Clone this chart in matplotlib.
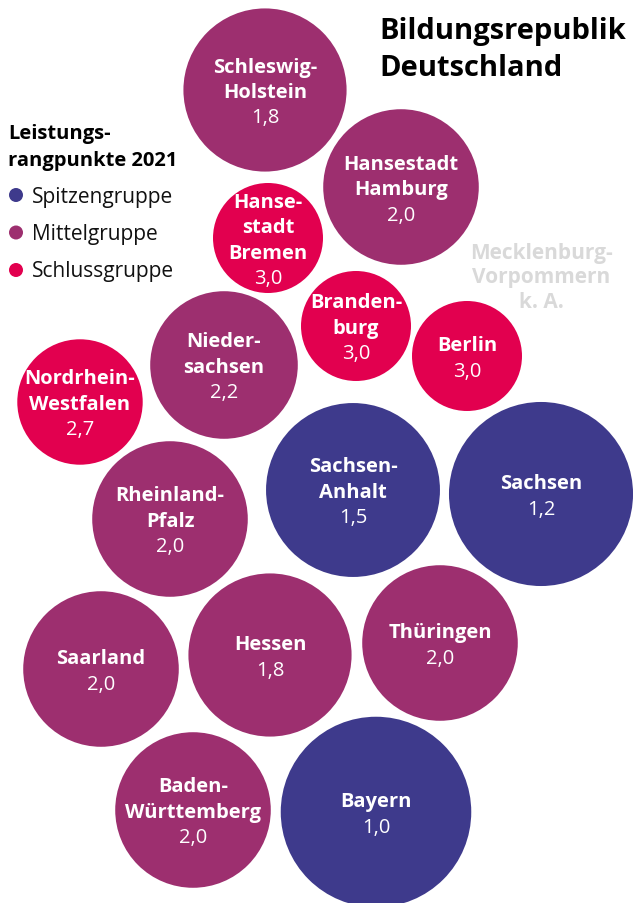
import numpy as np
import matplotlib
matplotlib.use("Agg")
import matplotlib.pyplot as plt
from matplotlib.patches import Circle

# Leistungsrangpunkte 2021 per Bundesland
states = ["Schleswig-\nHolstein", "Hansestadt\nHamburg", "Hanse-\nstadt\nBremen",
          "Branden-\nburg", "Berlin", "Nieder-\nsachsen", "Nordrhein-\nWestfalen",
          "Sachsen-\nAnhalt", "Sachsen", "Rheinland-\nPfalz", "Saarland", "Hessen",
          "Thüringen", "Baden-\nWürttemberg", "Bayern"]
scores = [1.8, 2.0, 3.0, 3.0, 3.0, 2.2, 2.7, 1.5, 1.2, 2.0, 2.0, 1.8, 2.0, 2.0, 1.0]
groups = ["Mittelgruppe", "Mittelgruppe", "Schlussgruppe", "Schlussgruppe", "Schlussgruppe",
          "Mittelgruppe", "Schlussgruppe", "Spitzengruppe", "Spitzengruppe", "Mittelgruppe",
          "Mittelgruppe", "Mittelgruppe", "Mittelgruppe", "Mittelgruppe", "Spitzengruppe"]
group_names = ["Spitzengruppe", "Mittelgruppe", "Schlussgruppe"]

# bubble layout (centre of each state's circle)
layout_x = [265, 401, 268, 356, 467, 224, 80, 353, 541, 170, 101, 270, 440, 193, 376]
layout_y = [91, 188, 239, 327, 357, 366, 403, 491, 495, 520, 670, 656, 644, 811, 813]

colors = {"Spitzengruppe": "#3e3a8c", "Mittelgruppe": "#9d2f6f", "Schlussgruppe": "#e2004f"}
FONT = "Open Sans"
W, H = 633, 904


def radius(score):
    # circle area grows with distance from the worst score (4)
    return 55 * np.sqrt(4 - score)


fig = plt.figure(figsize=(W / 100, H / 100), dpi=100)
ax = fig.add_axes([0, 0, 1, 1])
ax.set_xlim(0, W)
ax.set_ylim(H, 0)
ax.set_aspect("equal")
ax.axis("off")

line_h = 25.5
for name, val, grp, x, y in zip(states, scores, groups, layout_x, layout_y):
    ax.add_patch(Circle((x, y), radius(val), color=colors[grp], lw=0))
    lines = name.split("\n")
    n = len(lines) + 1
    ty = y + 2  # small optical shift of the text block
    for i, txt in enumerate(lines):
        ax.text(x, ty + (i - (n - 1) / 2) * line_h, txt, ha="center", va="center",
                color="white", fontsize=14.5, fontweight="bold", family=FONT)
    ax.text(x, ty + (n - 1 - (n - 1) / 2) * line_h, f"{val:.1f}".replace(".", ","),
            ha="center", va="center", color="white", fontsize=14.5, family=FONT)

# state without data
for i, txt in enumerate(["Mecklenburg-", "Vorpommern", "k. A."]):
    ax.text(541, 253 + i * 25, txt, ha="center", va="center", color="#d9d9d9",
            fontsize=15, fontweight="bold", family=FONT)

# title
ax.text(379, 31, "Bildungsrepublik", ha="left", va="center", fontsize=21,
        fontweight="bold", family=FONT, color="black")
ax.text(379, 68, "Deutschland", ha="left", va="center", fontsize=21,
        fontweight="bold", family=FONT, color="black")

# legend
ax.text(8, 134, "Leistungs-", ha="left", va="center", fontsize=14.5,
        fontweight="bold", family=FONT, color="black")
ax.text(8, 161, "rangpunkte 2021", ha="left", va="center", fontsize=14.5,
        fontweight="bold", family=FONT, color="black")
for i, g in enumerate(group_names):
    yy = 196 + i * 37.5
    ax.add_patch(Circle((16, yy), 7, color=colors[g], lw=0))
    ax.text(32, yy + 1, g, ha="left", va="center", fontsize=15, family=FONT, color="#111111")

fig.savefig("out.png", dpi=100)
